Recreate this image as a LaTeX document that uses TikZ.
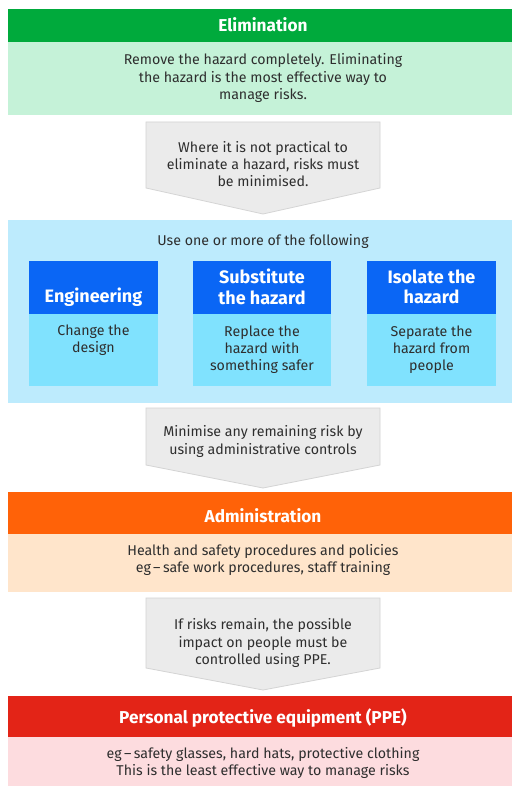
\documentclass[tikz,border=0pt]{standalone}
\usepackage{fontspec}
\setmainfont{Fira Sans}
\definecolor{elimdark}{HTML}{00AA3C}
\definecolor{elimlight}{HTML}{C5F2D8}
\definecolor{arrowfill}{HTML}{EBEBEB}
\definecolor{arrowline}{HTML}{D4D4D4}
\definecolor{panelblue}{HTML}{BDEBFD}
\definecolor{boxhead}{HTML}{0A66F5}
\definecolor{boxbody}{HTML}{80E2FE}
\definecolor{admdark}{HTML}{FF6208}
\definecolor{admlight}{HTML}{FFE5CB}
\definecolor{ppedark}{HTML}{E32417}
\definecolor{ppelight}{HTML}{FDDCDF}
\definecolor{bodytext}{HTML}{2E2E2E}
\tikzset{
  bodytxt/.style={text=bodytext, align=center, inner sep=0pt,
    font=\fontsize{14.2}{17.2}\selectfont},
  headtxt/.style={text=white, align=center, inner sep=0pt,
    font=\fontsize{17.2}{20}\selectfont\bfseries},
  boxtxt/.style={text=white, align=center, inner sep=0pt,
    font=\fontsize{18}{20.5}\selectfont\bfseries},
  stagearrow/.style={fill=arrowfill, draw=arrowline, line width=0.8pt},
}
\begin{document}
\begin{tikzpicture}[x=1pt,y=-1pt]
\useasboundingbox (0,0) rectangle (512,786);
\fill[white] (0,0) rectangle (512,786);

% Elimination band
\fill[elimdark] (8,9) rectangle (512,42);
\fill[elimlight] (8,42) rectangle (512,115);
\node[headtxt] (elimhead) at (263,25) {Elimination};
\node[bodytxt] (elimbody) at (263,78) {Remove the hazard completely. Eliminating\\the hazard is the most effective way to\\manage risks.};

% First step arrow
\draw[stagearrow] (146,122) -- (380,122) -- (380,188) -- (263,214) -- (146,188) -- cycle;
\node[bodytxt] (step1) at (263,164) {Where it is not practical to\\eliminate a hazard, risks must\\be minimised.};

% Minimisation panel
\fill[panelblue] (8,220) rectangle (512,403);
\node[bodytxt] (useone) at (263,241) {Use one or more of the following};

\fill[boxhead] (29,261) rectangle (158,314);
\fill[boxbody] (29,314) rectangle (158,386);
\fill[boxhead] (193,261) rectangle (331,314);
\fill[boxbody] (193,314) rectangle (331,386);
\fill[boxhead] (367,261) rectangle (496,314);
\fill[boxbody] (367,314) rectangle (496,386);

\node[boxtxt] (enghead) at (93.5,297) {Engineering};
\node[boxtxt] (subhead) at (262,287) {Substitute\\the hazard};
\node[boxtxt] (isohead) at (431.5,287) {Isolate the\\hazard};
\node[bodytxt] (engbody) at (93.5,340.5) {Change the\\design};
\node[bodytxt] (subbody) at (262,349.5) {Replace the\\hazard with\\something safer};
\node[bodytxt] (isobody) at (431.5,349.5) {Separate the\\hazard from\\people};

% Second step arrow
\draw[stagearrow] (146,408) -- (380,408) -- (380,465) -- (263,488) -- (146,465) -- cycle;
\node[bodytxt] (step2) at (263,441.5) {Minimise any remaining risk by\\using administrative controls};

% Administration band
\fill[admdark] (8,492) rectangle (512,534);
\fill[admlight] (8,534) rectangle (512,592);
\node[headtxt] (admhead) at (263,516) {Administration};
\node[bodytxt] (admbody) at (263,560) {Health and safety procedures and policies\\eg\,--\,safe work procedures, staff training};

% Third step arrow
\draw[stagearrow] (146,598) -- (380,598) -- (380,668) -- (263,690) -- (146,668) -- cycle;
\node[bodytxt] (step3) at (263,643) {If risks remain, the possible\\impact on people must be\\controlled using PPE.};

% PPE band
\fill[ppedark] (8,696) rectangle (512,737);
\fill[ppelight] (8,737) rectangle (512,786);
\node[headtxt] (ppehead) at (263,718) {Personal protective equipment (PPE)};
\node[bodytxt] (ppebody) at (263,763) {eg\,--\,safety glasses, hard hats, protective clothing\\This is the least effective way to manage risks};
\end{tikzpicture}
\end{document}
